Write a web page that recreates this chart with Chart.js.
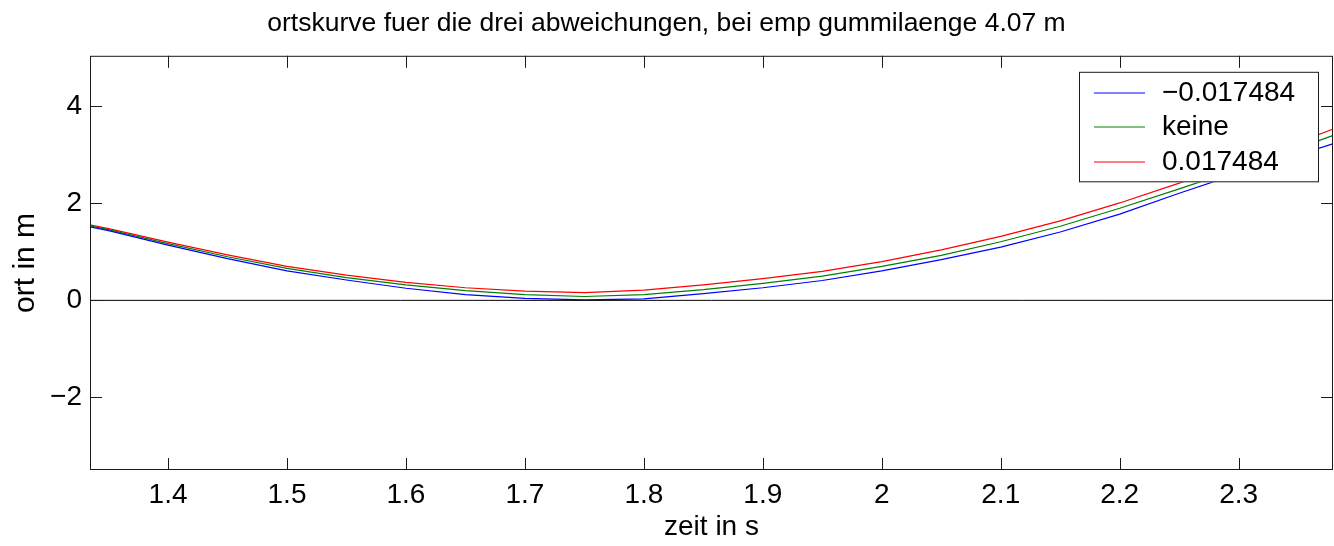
<!DOCTYPE html>
<html>
<head>
<meta charset="utf-8">
<title>ortskurve</title>
<script src="https://cdn.jsdelivr.net/npm/chart.js@4/dist/chart.umd.min.js"></script>
<style>
	html, body { margin: 0; padding: 0; background: #fff; }
	#wrap { width: 1334px; height: 546px; }
</style>
</head>
<body>
<div id="wrap"><canvas id="chart" width="1334" height="546"></canvas></div>
<script>
"use strict";

// Data

var TIMES = [1.334, 1.35, 1.4, 1.45, 1.5, 1.55, 1.6, 1.65, 1.7, 1.75, 1.8, 1.85,
	1.9, 1.95, 2.0, 2.05, 2.1, 2.15, 2.2, 2.25, 2.3, 2.35, 2.379];

var MINUS_DEV = [1.52, 1.44, 1.14, 0.86, 0.61, 0.42, 0.25, 0.12, 0.04, 0.01, 0.03, 0.14,
	0.26, 0.41, 0.61, 0.84, 1.10, 1.41, 1.78, 2.21, 2.62, 3.00, 3.23];
var NO_DEV = [1.54, 1.46, 1.17, 0.90, 0.66, 0.47, 0.32, 0.20, 0.12, 0.08, 0.12, 0.22,
	0.35, 0.50, 0.70, 0.93, 1.21, 1.53, 1.90, 2.30, 2.71, 3.14, 3.40];
var PLUS_DEV = [1.56, 1.48, 1.20, 0.94, 0.70, 0.52, 0.37, 0.26, 0.19, 0.16, 0.21, 0.32,
	0.45, 0.60, 0.80, 1.04, 1.32, 1.64, 2.01, 2.42, 2.83, 3.26, 3.53];

var SERIES_LABELS = ["\u22120.017484", "keine", "0.017484"];
var SERIES_COLORS = ["#0000ff", "#008000", "#ff0000"];
var GROUND = [0, 0];

var X_TICKS = [1.4, 1.5, 1.6, 1.7, 1.8, 1.9, 2.0, 2.1, 2.2, 2.3];
var Y_TICKS = [-2, 0, 2, 4];
var X_RANGE = [1.3344, 2.3793];
var Y_RANGE = [-3.5, 5.046];

var TITLE = "ortskurve fuer die drei abweichungen, bei emp gummilaenge 4.07 m";
var FONT = "'Liberation Sans', Arial, Helvetica, sans-serif";

// Helpers

function toPoints(xs, ys) {
	var pts = [];
	for (var i = 0; i < xs.length; i++) {
		pts.push({ x: xs[i], y: ys[i] });
	}
	return pts;
}

function fmt(v) {
	var s = String(Math.round(v * 10) / 10);
	return s.replace("-", "\u2212");
}

function series(idx, values) {
	return {
		label: SERIES_LABELS[idx],
		data: toPoints(TIMES, values),
		borderColor: SERIES_COLORS[idx],
		borderWidth: 1.2,
		pointRadius: 0,
		tension: 0,
		fill: false
	};
}

// matlab style box with inward ticks on all four sides
var axesBoxPlugin = {
	id: "axesBox",
	afterDatasetsDraw: function (chart) {
		var ctx = chart.ctx, a = chart.chartArea,
			xs = chart.scales.x, ys = chart.scales.y, len = 12, i, p;

		ctx.save();
		ctx.strokeStyle = "#1a1a1a";
		ctx.lineWidth = 1;
		ctx.beginPath();
		for (i = 0; i < X_TICKS.length; i++) {
			p = Math.round(xs.getPixelForValue(X_TICKS[i])) + 0.5;
			ctx.moveTo(p, a.bottom);
			ctx.lineTo(p, a.bottom - len);
			ctx.moveTo(p, a.top);
			ctx.lineTo(p, a.top + len);
		}
		for (i = 0; i < Y_TICKS.length; i++) {
			p = Math.round(ys.getPixelForValue(Y_TICKS[i])) + 0.5;
			ctx.moveTo(a.left, p);
			ctx.lineTo(a.left + len, p);
			ctx.moveTo(a.right, p);
			ctx.lineTo(a.right - len, p);
		}
		ctx.stroke();
		ctx.strokeRect(a.left + 0.5, a.top + 0.5, a.right - a.left - 1, a.bottom - a.top - 1);
		ctx.restore();
	}
};

// legend box in the upper right corner, over the curves
var boxLegendPlugin = {
	id: "boxLegend",
	afterDraw: function (chart) {
		var ctx = chart.ctx, a = chart.chartArea, sets = chart.data.datasets,
			rowH = 34.5, maxW = 0, i, items = [];

		for (i = 0; i < sets.length; i++) {
			if (sets[i].label) {
				items.push(sets[i]);
			}
		}
		ctx.save();
		ctx.font = "28px " + FONT;
		for (i = 0; i < items.length; i++) {
			maxW = Math.max(maxW, ctx.measureText(items[i].label).width);
		}
		var w = 15 + 51 + 17 + maxW + 24,
			h = rowH * items.length + 7,
			right = a.right - 14,
			left = Math.round(right - w),
			top = a.top + 16;

		ctx.fillStyle = "#fff";
		ctx.fillRect(left, top, right - left, h);
		ctx.strokeStyle = "#1a1a1a";
		ctx.lineWidth = 1;
		ctx.strokeRect(left + 0.5, top + 0.5, right - left - 1, h - 1);

		ctx.textBaseline = "middle";
		ctx.textAlign = "left";
		for (i = 0; i < items.length; i++) {
			var y = Math.round(top + 20.7 + i * rowH);
			ctx.lineWidth = 1.2;
			ctx.strokeStyle = items[i].borderColor;
			ctx.beginPath();
			ctx.moveTo(left + 15, y);
			ctx.lineTo(left + 66, y);
			ctx.stroke();
			ctx.fillStyle = "#000";
			ctx.fillText(items[i].label, left + 83, y);
		}
		ctx.restore();
	}
};

// Chart

var ground = {
	label: "",
	data: toPoints(X_RANGE, GROUND),
	borderColor: "#000",
	borderWidth: 1,
	pointRadius: 0,
	fill: false
};

new Chart(document.getElementById("chart"), {
	type: "line",
	data: {
		datasets: [
			ground,
			series(0, MINUS_DEV),
			series(1, NO_DEV),
			series(2, PLUS_DEV)
		]
	},
	options: {
		responsive: false,
		animation: false,
		events: [],
		layout: { padding: { left: 0, right: 1, top: 0, bottom: 0 } },
		plugins: {
			legend: { display: false },
			tooltip: { enabled: false },
			title: {
				display: true,
				text: TITLE,
				color: "#000",
				font: { family: FONT, size: 26.5, weight: "normal" },
				padding: { top: 8, bottom: 16 }
			}
		},
		scales: {
			x: {
				type: "linear",
				min: X_RANGE[0],
				max: X_RANGE[1],
				grid: { display: false, drawTicks: false },
				border: { display: false },
				afterBuildTicks: function (scale) {
					scale.ticks = X_TICKS.map(function (v) { return { value: v }; });
				},
				afterFit: function (scale) { scale.height = 76; },
				ticks: {
					color: "#000",
					font: { family: FONT, size: 28 },
					padding: 8,
					maxRotation: 0,
					autoSkip: false,
					callback: function (v) { return fmt(v); }
				},
				title: {
					display: true,
					text: "zeit in s",
					color: "#000",
					font: { family: FONT, size: 28 },
					padding: { top: 0, bottom: 2 }
				}
			},
			y: {
				type: "linear",
				min: Y_RANGE[0],
				max: Y_RANGE[1],
				grid: { display: false, drawTicks: false },
				border: { display: false },
				afterBuildTicks: function (scale) {
					scale.ticks = Y_TICKS.map(function (v) { return { value: v }; });
				},
				afterFit: function (scale) { scale.width = 90; },
				ticks: {
					color: "#000",
					font: { family: FONT, size: 28 },
					padding: 8,
					autoSkip: false,
					callback: function (v) { return fmt(v); }
				},
				title: {
					display: true,
					text: "ort in m",
					color: "#000",
					font: { family: FONT, size: 30 },
					padding: { top: 8, bottom: 0 }
				}
			}
		}
	},
	plugins: [axesBoxPlugin, boxLegendPlugin]
});
</script>
</body>
</html>
